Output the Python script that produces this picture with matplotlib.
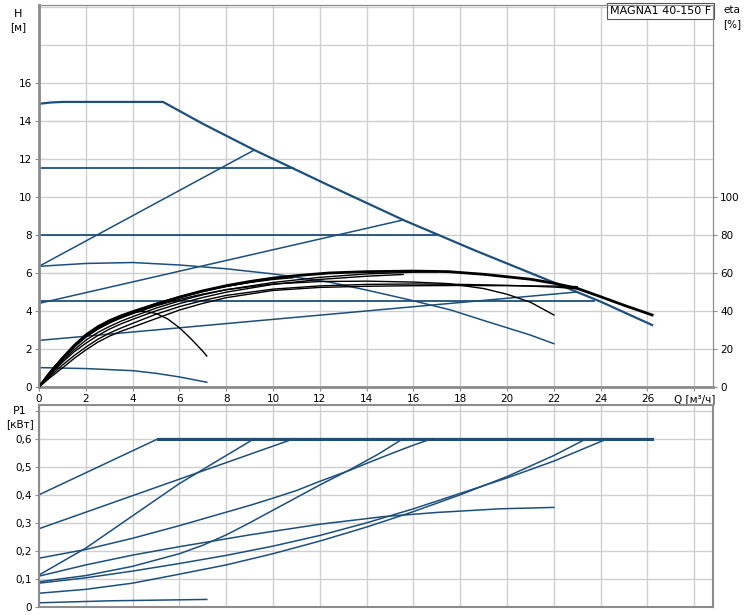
import matplotlib
matplotlib.use("Agg")
import matplotlib.pyplot as plt

# pump curves, Q in m3/h
q_max = [0, 0.5, 1, 5.3, 7, 9.2, 12.4, 15.6, 18.6, 21.3, 24, 26.2]
h_max = [14.9, 14.97, 15.0, 15.0, 13.85, 12.47, 10.6, 8.77, 7.2, 5.85, 4.49, 3.26]

h_const = [11.5, 8.0, 4.5]
q_const_end = [10.85, 17.0, 23.7]

# proportional pressure lines (start, end)
q_prop = [[0, 9.2], [0, 15.56], [0, 23.0]]
h_prop = [[6.35, 12.47], [4.4, 8.79], [2.45, 5.0]]

q_c6 = [0, 2, 4, 6, 8, 10, 12.4, 14, 15.85, 17.6, 19, 20.98, 22]
h_c6 = [6.35, 6.5, 6.55, 6.42, 6.22, 5.95, 5.52, 5.1, 4.58, 4.05, 3.5, 2.74, 2.28]

q_min = [0, 2, 4, 5, 6, 7.17]
h_min = [1.02, 0.97, 0.86, 0.72, 0.53, 0.25]

# efficiency curves, eta in %
q_low = [0, 0.5, 1, 1.5, 2, 2.5, 3, 3.5, 4]
eta_curves = [
    (q_low + [5, 6, 7, 8, 9, 10, 11, 12.4, 14, 16, 17.5, 19, 20, 21, 22, 23, 24, 25, 26.2],
     [0, 8, 15, 21.5, 27, 31.2, 34.5, 37, 39.2,
      43.5, 47.3, 50.6, 53.3, 55.5, 57.3, 58.6, 60, 60.7, 61, 60.7, 59.3, 58, 56.7, 54.6, 51.9, 47.5, 43, 37.9]),
    (q_low + [5, 6, 7, 8, 9.2],
     [0, 8.3, 15.5, 22.2, 27.8, 32, 35.2, 37.8, 40, 44, 47.5, 50.5, 53, 55.5]),
    (q_low + [5, 6, 7, 8, 9, 10, 10.85],
     [0, 7.8, 14.8, 21, 26.5, 30.6, 33.8, 36.5, 38.8, 43.2, 47, 50.2, 52.9, 55, 56.6, 57.5]),
    (q_low + [5, 6, 7, 8, 10, 12, 14, 16, 17],
     [0, 7.2, 13.8, 19.6, 24.6, 28.6, 31.8, 34.6, 37, 41.5, 45.3, 48.5, 51.2, 55, 57.7, 59.5, 60.4, 60.6]),
    (q_low + [5, 6, 7, 8, 10, 12, 14, 15.56],
     [0, 6.8, 13, 18.5, 23, 27, 30.4, 33.2, 35.6, 40.1, 43.9, 47.1, 49.9, 54, 56.6, 58.3, 59.2]),
    (q_low + [5, 6, 7, 8, 10, 12, 14, 16, 17.5, 19, 20, 21, 22],
     [0, 7.8, 14.8, 21, 26.2, 30.3, 33.6, 36.3, 38.6, 42.7, 46.1, 48.9, 51.2, 54.2, 55.5, 55.7, 55.2, 54.4,
      51.8, 48.8, 44.6, 37.9]),
    (q_low + [5, 6, 7, 8, 10, 12, 14, 16, 18, 20, 22, 23, 23.7],
     [0, 6, 11.5, 16.5, 21, 25, 28.3, 31, 33.5, 38.3, 42.3, 45.5, 48.2, 51.5, 53.2, 54, 54.2,
      54, 53.5, 52.6, 51.7, 48.7]),
    (q_low + [5, 6, 7, 8, 10, 12, 14, 16, 18, 20, 22, 23],
     [0, 5.2, 10, 15, 19.5, 23.5, 26.7, 29.3, 31.5, 36, 40.5, 44, 47, 50.8, 52.4, 53, 53.3,
      53.4, 53.3, 53.1, 52.8]),
    (q_low + [4.5, 5, 5.5, 6, 6.5, 7, 7.17],
     [0, 8.2, 15.5, 22, 27.3, 31.6, 35, 37.6, 39.3, 39.9, 38.7, 35.8, 31.2, 25.3, 18.8, 16.3]),
]

# power curves P1 in kW
p_curves = [
    ([0, 5.1, 26.2], [0.40, 0.6, 0.6]),
    ([0, 10.9], [0.279, 0.6]),
    ([0, 2, 4, 6, 8, 9, 10, 11, 12, 13.3, 14, 15, 16, 16.8],
     [0.174, 0.205, 0.245, 0.29, 0.338, 0.362, 0.388, 0.415, 0.448, 0.488, 0.512, 0.545, 0.577, 0.6]),
    ([0, 2, 4, 6, 8, 9.2], [0.114, 0.21, 0.325, 0.44, 0.54, 0.6]),
    ([0, 2, 4, 6, 7, 8, 9, 10, 11, 12, 13.3, 14.5, 15.56],
     [0.09, 0.112, 0.145, 0.19, 0.22, 0.257, 0.3, 0.345, 0.39, 0.435, 0.49, 0.545, 0.6]),
    ([0, 2, 4, 6, 9, 12, 14.7, 17, 19.7, 22],
     [0.11, 0.15, 0.185, 0.215, 0.257, 0.295, 0.322, 0.337, 0.35, 0.355]),
    ([0, 2, 4, 6, 8, 10, 12, 14, 16, 18, 20, 22, 24.3],
     [0.085, 0.104, 0.128, 0.155, 0.184, 0.217, 0.255, 0.3, 0.35, 0.405, 0.46, 0.52, 0.6]),
    ([0, 2, 4, 6, 8, 10, 12, 14, 16, 18, 20, 22, 23.4],
     [0.049, 0.063, 0.085, 0.117, 0.15, 0.19, 0.235, 0.285, 0.34, 0.4, 0.465, 0.54, 0.6]),
    ([0, 3, 7.17], [0.015, 0.022, 0.027]),
]

x_ticks = list(range(0, 30, 2))
x_labels = [str(v) for v in range(0, 28, 2)] + ["Q [м³/ч]"]

BLUE = "#1d4f7c"
GRID = "#cfcfcf"
SPINE = "#8c8c8c"

plt.rcParams["font.family"] = ["DejaVu Sans"]
plt.rcParams["font.size"] = 7.5

fig = plt.figure(figsize=(7.5, 6.15), dpi=100)
ax = fig.add_axes([39 / 750, 1 - 387 / 615, 674 / 750, 382 / 615])
ax2 = ax.twinx()
axp = fig.add_axes([39 / 750, 1 - 607 / 615, 674 / 750, 202 / 615])

# --- top: H and eta ---
ax.plot(q_max, h_max, color=BLUE, lw=1.6)
for h, qe in zip(h_const, q_const_end):
    ax.plot([0, qe], [h, h], color=BLUE, lw=1.3)
for qq, hh in zip(q_prop, h_prop):
    ax.plot(qq, hh, color=BLUE, lw=1.1)
ax.plot(q_c6, h_c6, color=BLUE, lw=1.1)
ax.plot(q_min, h_min, color=BLUE, lw=1.1)

for i, (qq, ee) in enumerate(eta_curves):
    ax2.plot(qq, ee, color="black", lw=2.0 if i == 0 else 1.0)

ax.set_xlim(0, 28.8)
ax.set_ylim(0, 20.1)
ax2.set_ylim(0, 201)
ax.set_xticks(x_ticks)
ax.set_xticklabels(x_labels)
ax.set_yticks(range(0, 22, 2))
ax.set_yticklabels([str(v) for v in range(0, 18, 2)] + ["", ""])
for t in ax.yaxis.get_major_ticks()[-2:]:
    t.tick1line.set_visible(False)
ax2.set_yticks(range(0, 120, 20))
ax.grid(True, color=GRID, lw=1)
ax.set_axisbelow(True)
ax.tick_params(length=3, color=SPINE, pad=2)
ax2.tick_params(length=3, color=SPINE, pad=2)

for a in (ax, ax2):
    for s in a.spines.values():
        s.set_color(SPINE)
ax.spines["left"].set_linewidth(2)
ax.spines["bottom"].set_linewidth(2)

ax.text(0.997, 0.997, "MAGNA1 40-150 F", transform=ax.transAxes, ha="right", va="top",
        fontsize=8, bbox=dict(boxstyle="square,pad=0.3", fc="white", ec="#555555", lw=0.8))

fig.text(18 / 750, 1 - 14 / 615, "H", ha="center", va="center", fontsize=8)
fig.text(18 / 750, 1 - 27 / 615, "[м]", ha="center", va="center", fontsize=7.5)
fig.text(732 / 750, 1 - 10 / 615, "eta", ha="center", va="center", fontsize=7.5)
fig.text(732 / 750, 1 - 24 / 615, "[%]", ha="center", va="center", fontsize=7.5)

# --- bottom: P1 ---
for qq, pp in p_curves:
    axp.plot(qq, pp, color=BLUE, lw=1.1)
axp.plot([5.1, 26.2], [0.6, 0.6], color=BLUE, lw=2.2)

axp.set_xlim(0, 28.8)
axp.set_ylim(0, 0.72)
axp.set_xticks(x_ticks)
axp.set_xticklabels([])
axp.tick_params(axis="x", length=0)
axp.set_yticks([0, 0.1, 0.2, 0.3, 0.4, 0.5, 0.6, 0.7])
axp.set_yticklabels(["0", "0,1", "0,2", "0,3", "0,4", "0,5", "0,6", ""])
axp.tick_params(axis="y", length=3, color=SPINE, pad=2)
axp.grid(True, color=GRID, lw=1)
axp.set_axisbelow(True)
for s in axp.spines.values():
    s.set_color(SPINE)
    s.set_linewidth(1.5)

fig.text(20 / 750, 1 - 411 / 615, "P1", ha="center", va="center", fontsize=8)
fig.text(20 / 750, 1 - 424 / 615, "[кВт]", ha="center", va="center", fontsize=7.5)

fig.savefig("out.png", dpi=100)
